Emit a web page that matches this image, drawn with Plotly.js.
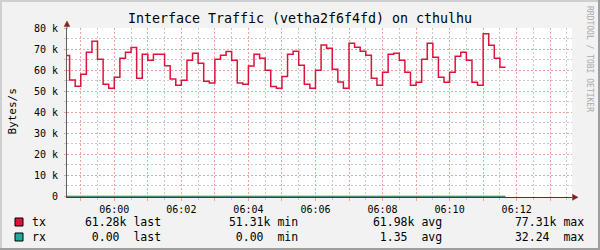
<!DOCTYPE html>
<html><head><meta charset="utf-8">
<script src="https://cdn.plot.ly/plotly-3.0.1.min.js"></script>
<style>html,body{margin:0;padding:0;background:#f2f2f2;}#chart{width:600px;height:250px;}</style>
</head><body><div id="chart"></div>
<script>
// ---------------- data ----------------
const titleText = 'Interface Traffic (vetha2f6f4fd) on cthulhu';
const yAxisTitle = 'Bytes/s';
const watermark = 'RRDTOOL / TOBI OETIKER';
const seriesNames = ['tx', 'rx'];
const firstStepStart = [5, 58, 30];   // hh, mm, ss of first 10 s step
const stepSeconds = 10;
const txValues = [
  66900, 55300, 52300, 58000, 68500, 73700, 65100, 53300, 51400, 56600,
  65600, 68500, 70700, 56100, 67500, 64700, 67500, 67500, 62100, 55700,
  52800, 55200, 64700, 68000, 63200, 54700, 53800, 65100, 67000, 68800,
  64700, 53800, 53300, 61900, 67500, 65600, 59900, 52200, 51400, 57000,
  67500, 68900, 62300, 53300, 51400, 59900, 71900, 70400, 60400, 54300,
  51400, 72700, 70800, 68900, 67100, 56100, 52800, 59000, 67500, 68000,
  64700, 59000, 52800, 54200, 65100, 72700, 66100, 56600, 54200, 59000,
  66600, 68500, 64700, 54200, 52800, 77310, 71800, 65600, 61280
];
const rxValues = [
  0, 0, 0, 0, 0, 0, 0, 0, 0, 0,
  0, 0, 0, 0, 0, 0, 0, 0, 0, 0,
  0, 0, 0, 0, 0, 0, 0, 0, 0, 0,
  0, 0, 0, 0, 0, 0, 0, 0, 0, 0,
  0, 0, 0, 0, 0, 0, 0, 0, 0, 0,
  0, 0, 0, 0, 0, 0, 0, 0, 0, 0,
  0, 0, 0, 0, 0, 0, 0, 0, 0, 0,
  0, 0, 0, 0, 0, 0, 0, 0, 0
];
const xTickTimes = ['05:59','06:00','06:01','06:02','06:03','06:04','06:05','06:06','06:07','06:08','06:09','06:10','06:11','06:12','06:13'];
const xTickLabels = ['','06:00','','06:02','','06:04','','06:06','','06:08','','06:10','','06:12',''];
const yTickValues = [0, 10000, 20000, 30000, 40000, 50000, 60000, 70000, 80000];
const yTickLabels = ['0', '10 k', '20 k', '30 k', '40 k', '50 k', '60 k', '70 k', '80 k'];
const statNames = ['last', 'min', 'avg', 'max'];
const txStats = ['61.28', '51.31', '61.98', '77.31'];
const txSuffix = 'k';
const rxStats = ['0.00', '0.00', '1.35', '32.24'];
const rxSuffix = ' ';

// ---------------- styles / layout helpers ----------------
const txColor = '#dc143c';
const rxLine = '#22605a';
const rxBox = '#1faa9f';
const majorGrid = '#eea2a2';
const minorGrid = '#c8c8c8';
const mono = 'DejaVu Sans Mono';
const W = 600, H = 250, L = 67, R = 572, T = 28, B = 197;
const xp = p => (p - L) / (R - L);
const yp = p => (B - p) / (B - T);

function ms(h, m, s) { return Date.UTC(2024, 0, 1, h, m, s); }
const t0 = ms(firstStepStart[0], firstStepStart[1], firstStepStart[2]);
const times = txValues.map((_, i) => t0 + i * stepSeconds * 1000);
const endTime = t0 + txValues.length * stepSeconds * 1000;
const xs = times.concat([endTime]);
const txY = txValues.concat([txValues[txValues.length - 1]]);
const rxY = rxValues.concat([rxValues[rxValues.length - 1]]);
const tickMs = xTickTimes.map(s => { const [h, m] = s.split(':').map(Number); return ms(h, m, 0); });

const pxPerMin = 33.53;
const xStart = ms(6, 0, 0) - (114.3 - L) / pxPerMin * 60000;
const xEnd = xStart + (R - L) / pxPerMin * 60000;

const traces = [
  { x: xs, y: txY, name: seriesNames[0], type: 'scatter', mode: 'lines',
    line: { shape: 'hv', color: txColor, width: 1.5 }, hoverinfo: 'skip' },
  { x: xs, y: rxY, name: seriesNames[1], type: 'scatter', mode: 'lines',
    line: { shape: 'hv', color: rxLine, width: 1.1 }, hoverinfo: 'skip' }
];

const annotations = [
  { text: yAxisTitle, xref: 'paper', yref: 'paper', x: xp(11.5), y: yp(112), textangle: -90,
    showarrow: false, xanchor: 'center', yanchor: 'middle', font: { family: mono, size: 11, color: '#000' } },
  { text: watermark, xref: 'paper', yref: 'paper', x: xp(590), y: yp(59), textangle: 90,
    showarrow: false, xanchor: 'center', yanchor: 'middle', font: { family: mono, size: 8, color: '#aaaaaa' } }
];
const cw = 6.92;
const colStarts = [75.8, 219.8, 363.8, 506.4];
const rowY = [222.2, 237];
const rows = [[seriesNames[0], txStats, txSuffix], [seriesNames[1], rxStats, rxSuffix]];
rows.forEach((r, ri) => {
  annotations.push({ text: r[0], xref: 'paper', yref: 'paper', x: xp(30), y: yp(rowY[ri]), showarrow: false,
    xanchor: 'left', yanchor: 'middle', font: { family: mono, size: 11.5, color: '#000' } });
  r[1].forEach((v, ci) => {
    const s = (v.padStart(6, ' ') + r[2] + ' ' + statNames[ci]).replace(/ /g, '\u00a0');
    annotations.push({ text: s, xref: 'paper', yref: 'paper', x: xp(colStarts[ci]), y: yp(rowY[ri]),
      showarrow: false, xanchor: 'left', yanchor: 'middle', font: { family: mono, size: 11.5, color: '#000' } });
  });
});

const rectPx = (x0, y0, x1, y1, fill, line) => ({ type: 'rect', xref: 'paper', yref: 'paper',
  x0: xp(x0), x1: xp(x1), y0: yp(y0), y1: yp(y1), fillcolor: fill,
  line: line ? { color: line, width: 1 } : { width: 0 }, layer: 'above' });
const shapes = [
  rectPx(0, 0, 600, 2, '#cfcfcf'), rectPx(0, 0, 2, 250, '#cfcfcf'),
  rectPx(598, 0, 600, 250, '#9e9e9e'), rectPx(0, 248, 600, 250, '#9e9e9e'),
  rectPx(15, 218, 23, 226, txColor, '#000'), rectPx(15, 233, 23, 241, rxBox, '#000'),
  { type: 'path', xref: 'paper', yref: 'paper', layer: 'above', fillcolor: '#802020', line: { color: '#802020', width: 0.5 },
    path: `M ${xp(67)} ${yp(21)} L ${xp(64.2)} ${yp(26.5)} L ${xp(69.8)} ${yp(26.5)} Z` },
  { type: 'line', xref: 'paper', yref: 'paper', layer: 'above', line: { color: '#606060', width: 1 },
    x0: xp(67), x1: xp(67), y0: yp(26.5), y1: yp(28.5) },
  { type: 'path', xref: 'paper', yref: 'paper', layer: 'above', fillcolor: '#802020', line: { color: '#802020', width: 0.5 },
    path: `M ${xp(578)} ${yp(197.3)} L ${xp(572.5)} ${yp(194.3)} L ${xp(572.5)} ${yp(200.3)} Z` }
];

const layout = {
  width: W, height: H,
  margin: { l: L, r: W - R, t: T, b: H - B },
  paper_bgcolor: '#f2f2f2', plot_bgcolor: '#ffffff',
  showlegend: false,
  font: { family: mono, size: 10, color: '#000' },
  title: { text: titleText, font: { family: mono, size: 13.3, color: '#000' },
    x: 0.5, xref: 'container', xanchor: 'center', y: 1 - 18.5 / H, yref: 'container', yanchor: 'middle' },
  xaxis: {
    type: 'date', range: [xStart, xEnd], fixedrange: true,
    tickmode: 'array', tickvals: tickMs, ticktext: xTickLabels,
    showgrid: true, gridcolor: majorGrid, griddash: '2px,2px', gridwidth: 1,
    ticks: 'outside', ticklen: 3, tickcolor: majorGrid, tickwidth: 1,
    showline: true, linecolor: '#802020', linewidth: 1, zeroline: false,
    tickfont: { family: mono, size: 10, color: '#000' }, ticklabelstandoff: 0,
    minor: { tickmode: 'linear', tick0: ms(5, 58, 30), dtick: 30000, showgrid: true,
      gridcolor: minorGrid, griddash: '2px,2px', ticks: 'outside', ticklen: 2, tickcolor: minorGrid }
  },
  yaxis: {
    range: [-350, 80000], fixedrange: true,
    tickmode: 'array', tickvals: yTickValues, ticktext: yTickLabels,
    showgrid: true, gridcolor: majorGrid, griddash: '2px,2px', gridwidth: 1,
    ticks: 'outside', ticklen: 2, tickcolor: majorGrid,
    showline: true, linecolor: '#606060', linewidth: 1, zeroline: false,
    tickfont: { family: mono, size: 10, color: '#000' }, ticklabelstandoff: 4,
    minor: { tickmode: 'linear', tick0: 0, dtick: 5000, showgrid: true,
      gridcolor: minorGrid, griddash: '2px,2px', ticks: 'outside', ticklen: 2, tickcolor: minorGrid }
  },
  annotations: annotations,
  shapes: shapes
};

Plotly.newPlot('chart', traces, layout, { staticPlot: true, displayModeBar: false });
</script>
</body></html>
